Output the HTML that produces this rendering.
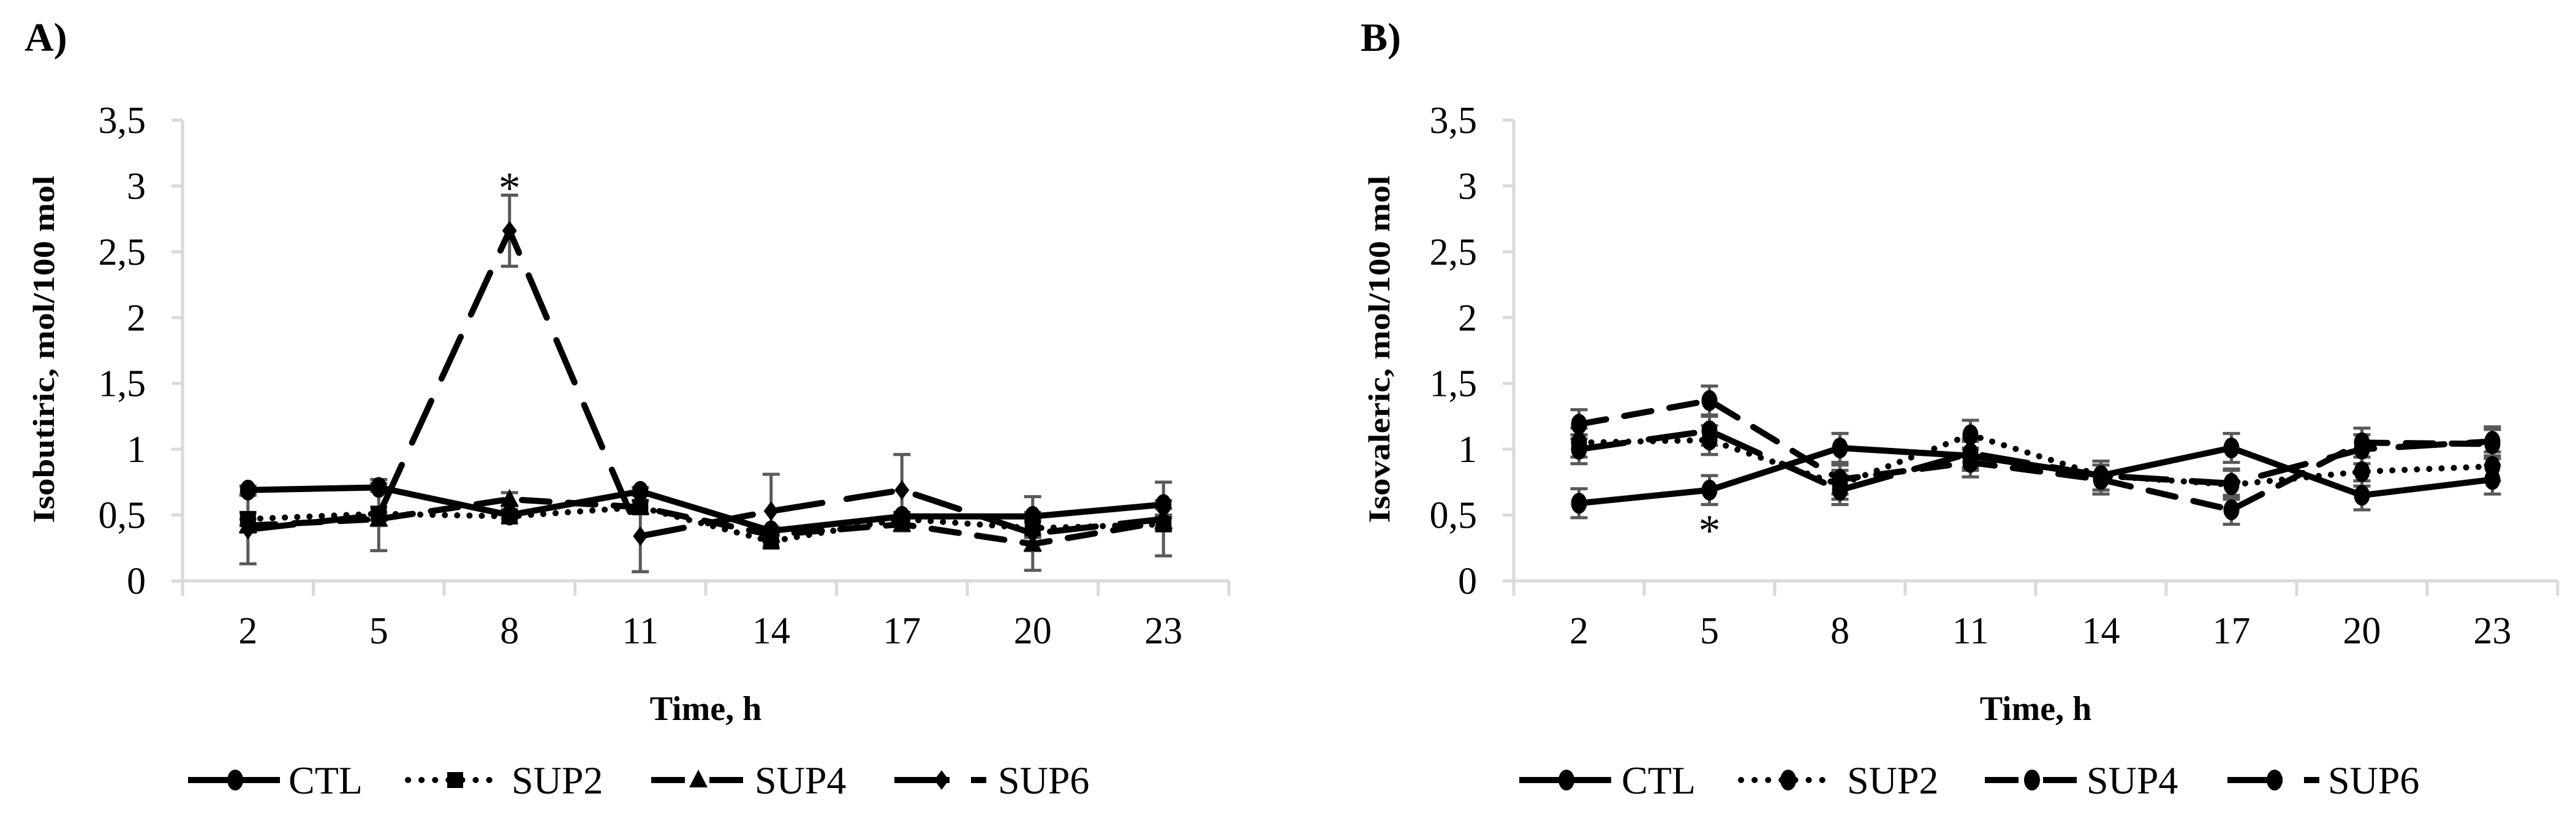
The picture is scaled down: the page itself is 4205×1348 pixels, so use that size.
<!DOCTYPE html>
<html><head><meta charset="utf-8"><style>
html,body{margin:0;padding:0;background:#fff;}
svg{display:block;}
text{font-family:"Liberation Serif",serif;fill:#000;}
</style></head><body>
<svg id="chart" width="4205" height="1348" viewBox="0 0 4205 1348" xmlns="http://www.w3.org/2000/svg"></svg>
<script>
const categories = ["2","5","8","11","14","17","20","23"];
const yTicks = ["0","0,5","1","1,5","2","2,5","3","3,5"];
const seriesNames = ["CTL","SUP2","SUP4","SUP6"];
// Panel A: Isobutiric
const aCTL  = [0.69,0.71,0.50,0.68,0.38,0.49,0.49,0.58];
const aSUP2 = [0.47,0.51,0.49,0.56,0.30,0.47,0.40,0.43];
const aSUP4 = [0.42,0.47,0.62,0.56,0.35,0.43,0.28,0.45];
const aSUP6 = [0.39,0.50,2.66,0.34,0.53,0.69,0.36,0.47];
const aErrCTL  = [0.03,0.03,0.03,0.03,0.03,0.03,0.03,0.03];
const aErrSUP2 = [0.05,0.05,0.05,0.05,0.05,0.05,0.05,0.05];
const aErrSUP4 = [0.05,0.05,0.05,0.05,0.05,0.05,0.05,0.05];
const aErrSUP6 = [0.26,0.27,0.27,0.27,0.28,0.27,0.28,0.28];
// Panel B: Isovaleric
const bCTL  = [0.59,0.69,1.01,0.95,0.80,1.01,0.65,0.77];
const bSUP2 = [1.05,1.07,0.73,1.11,0.80,0.73,0.83,0.87];
const bSUP4 = [1.19,1.37,0.77,0.90,0.77,0.54,1.05,1.04];
const bSUP6 = [1.00,1.14,0.69,0.97,0.80,0.74,1.00,1.06];
const bErrCTL  = [0.11,0.11,0.11,0.11,0.11,0.11,0.11,0.11];
const bErrSUP2 = [0.11,0.11,0.11,0.11,0.11,0.11,0.11,0.11];
const bErrSUP4 = [0.11,0.11,0.11,0.11,0.11,0.11,0.11,0.11];
const bErrSUP6 = [0.11,0.11,0.11,0.11,0.11,0.11,0.11,0.11];

const NS="http://www.w3.org/2000/svg";
const svg=document.getElementById('chart');
function mk(tag,attrs,parent){const e=document.createElementNS(NS,tag);for(const k in attrs)e.setAttribute(k,attrs[k]);(parent||svg).appendChild(e);return e;}
const dashes=["none","0.1 20","45 30","75 40"];
const legendDashes=["none","0.1 22","55 40","90 35"];

function panel(o){
  const g=mk('g',{});
  
  
  const y0=948, unit=(948-196)/3.5;
  const ys=v=>y0-v*unit;
  const cw=(o.x1-o.x0)/categories.length;
  const xs=i=>o.x0+cw*(i+0.5);
  const ax=mk('line',{x1:o.x0,y1:ys(3.5),x2:o.x0,y2:y0,stroke:'#d9d9d9','stroke-width':5},g);
  
  
  const bx=mk('line',{x1:o.x0-18,y1:y0,x2:o.x1,y2:y0,stroke:'#d9d9d9','stroke-width':5},g);
  
  
  yTicks.forEach((t,i)=>{
    const v=i*0.5;
    mk('line',{x1:o.x0-18,y1:ys(v),x2:o.x0,y2:ys(v),stroke:'#d9d9d9','stroke-width':5},g);
    const tx=mk('text',{x:o.x0-60,y:ys(v)+21,'text-anchor':'end','font-size':62},g);
    tx.textContent=t;
    
    
  });
  for(let i=0;i<=categories.length;i++){
    mk('line',{x1:o.x0+cw*i,y1:y0,x2:o.x0+cw*i,y2:y0+24,stroke:'#d9d9d9','stroke-width':5},g);
  }
  categories.forEach((c,i)=>{
    const tx=mk('text',{x:xs(i),y:1050,'text-anchor':'middle','font-size':62},g);
    tx.textContent=c;
    
    
  });
  const xt=mk('text',{x:(o.x0+o.x1)/2,y:1175,'text-anchor':'middle','font-size':56,'font-weight':'bold'},g);
  xt.textContent='Time, h';
  
  
  const yt=mk('text',{x:0,y:0,'text-anchor':'middle','font-size':50,'font-weight':'bold',textLength:567,lengthAdjust:'spacingAndGlyphs',transform:`translate(${o.titleX},570) rotate(-90)`},g);
  yt.textContent=o.yTitle;
  
  
  const pl=mk('text',{x:o.labelX,y:83,'font-size':66,'font-weight':'bold'},g);
  pl.textContent=o.label;
  
  
  o.series.forEach((s,si)=>{
    s.forEach((v,i)=>{
      const e=o.errs[si][i], x=xs(i);
      const eb=mk('path',{d:`M${x},${ys(v-e)}V${ys(v+e)}M${x-14},${ys(v-e)}H${x+14}M${x-14},${ys(v+e)}H${x+14}`,stroke:'#595959','stroke-width':5,fill:'none'},g);
      
      
    });
  });
  o.series.forEach((s,si)=>{
    const d=s.map((v,i)=>(i?'L':'M')+xs(i)+','+ys(v)).join('');
    const ln=mk('path',{d:d,fill:'none',stroke:'#000','stroke-width':10,'stroke-linecap':'round','stroke-linejoin':'round','stroke-dasharray':dashes[si]},g);
    
    
    s.forEach((v,i)=>{
      const m=marker(g,o.markers[si],xs(i),ys(v));
      
      
    });
  });
  const st=mk('text',{x:xs(o.starIdx),y:ys(o.starVal)+32,'text-anchor':'middle','font-size':72},g);
  st.textContent='*';
  
  
  seriesNames.forEach((n,si)=>{
    const lx=o.legend[si][0], tx0=o.legend[si][1];
    const lg=mk('g',{},g);
    
    
    mk('line',{x1:lx,y1:1273,x2:lx+150,y2:1273,stroke:'#000','stroke-width':10,'stroke-linecap':'butt','stroke-dasharray':legendDashes[si]},lg);
    if(si==1){mk('line',{x1:lx,y1:1273,x2:lx+150,y2:1273,stroke:'#000','stroke-width':10,'stroke-linecap':'round','stroke-dasharray':'0.1 22'},lg);}
    marker(lg,o.markers[si],lx+77,1273);
    const t=mk('text',{x:tx0,y:1295,'font-size':64},lg);
    t.textContent=n;
  });
}
function marker(g,type,x,y){
  if(type==='circle') return mk('ellipse',{cx:x,cy:y,rx:13,ry:17,fill:'#000'},g);
  if(type==='square') return mk('rect',{x:x-13,y:y-13,width:26,height:26,fill:'#000'},g);
  if(type==='triangle') return mk('path',{d:`M${x},${y-17}L${x+15},${y+12}L${x-15},${y+12}Z`,fill:'#000'},g);
  return mk('path',{d:`M${x},${y-16}L${x+12},${y}L${x},${y+16}L${x-12},${y}Z`,fill:'#000'},g);
}
panel({id:'a',x0:298,x1:2006,titleX:88,labelX:40,label:'A)',yTitle:'Isobutiric,  mol/100 mol',
  series:[aCTL,aSUP2,aSUP4,aSUP6],errs:[aErrCTL,aErrSUP2,aErrSUP4,aErrSUP6],
  markers:['circle','square','triangle','diamond'],starIdx:2,starVal:3.02,
  legend:[[307,471],[666,835],[1063,1232],[1460,1629]]});
panel({id:'b',x0:2471,x1:4175,titleX:2268,labelX:2221,label:'B)',yTitle:'Isovaleric, mol/100 mol',
  series:[bCTL,bSUP2,bSUP4,bSUP6],errs:[bErrCTL,bErrSUP2,bErrSUP4,bErrSUP6],
  markers:['circle','circle','circle','circle'],starIdx:1,starVal:0.42,
  legend:[[2480,2647],[2842,3015],[3240,3406],[3636,3800]]});
</script>
</body></html>
